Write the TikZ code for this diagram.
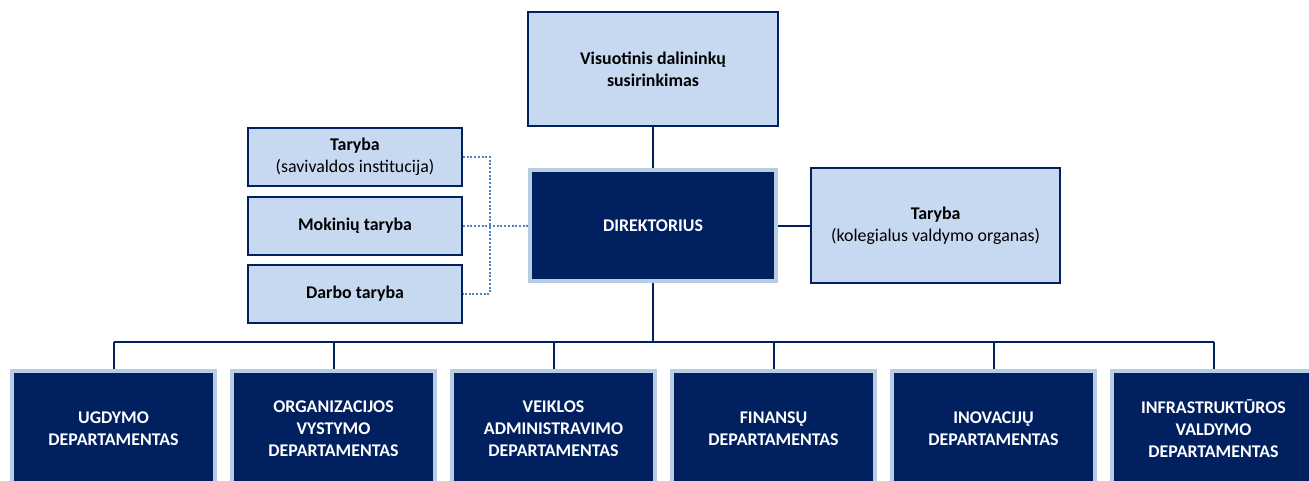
\documentclass[tikz,border=0pt]{standalone}
\usepackage{fontspec}
\setmainfont{Carlito}
\usetikzlibrary{positioning}
\definecolor{navycol}{RGB}{0,32,96}
\definecolor{lightcol}{RGB}{198,217,241}
\definecolor{halocol}{RGB}{184,204,228}
\definecolor{dotcol}{RGB}{79,129,189}

\begin{document}
\begin{tikzpicture}[
			x=0.75pt,
			y=-0.75pt,
			on grid,
			font=\fontsize{13.4}{16.5}\selectfont,
			lightbox/.style={
				draw=navycol,
				line width=1.5pt,
				fill=lightcol,
				align=center,
				inner sep=2pt
			},
			darkbox/.style={
				draw=halocol,
				line width=3pt,
				fill=navycol,
				text=white,
				font=\fontsize{13.4}{16.5}\selectfont\bfseries,
				align=center,
				inner sep=2pt
			},
			dept/.style={
				darkbox,
				minimum width=152pt,
				minimum height=87pt
			},
			link/.style={
				draw=navycol,
				line width=1.5pt
			},
			dotlink/.style={
				draw=dotcol,
				line width=1.5pt,
				dash pattern=on 1.5pt off 1.3pt
			}
			]
			\useasboundingbox (0,0) rectangle (1309,481);
			
			% Top of the chart
			\node[darkbox, minimum width=184.5pt, minimum height=83pt] (dir) at (653,225.5) {DIREKTORIUS};
			\node[lightbox, minimum width=187pt, minimum height=85.5pt] (gs) [above=117.4pt of dir] {\textbf{Visuotinis dalininkų}\\\textbf{susirinkimas}};
			\node[lightbox, minimum width=187pt, minimum height=85.5pt] (valdyba) [right=212pt of dir] {\textbf{Taryba}\\(kolegialus valdymo organas)};
			
			% Left boxes
			\node[lightbox, minimum width=160.5pt, minimum height=43.5pt] (mokiniai) [left=223.5pt of dir] {\textbf{Mokinių taryba}};
			\node[lightbox, minimum width=160.5pt, minimum height=43.5pt] (savivalda) [above=51.5pt of mokiniai] {\textbf{Taryba}\\(savivaldos institucija)};
			\node[lightbox, minimum width=160.5pt, minimum height=43.5pt] (darbo) [below=51pt of mokiniai] {\textbf{Darbo taryba}};
			
			% Departments
			\node[dept] (d1) at (113.5,429) {UGDYMO\\DEPARTAMENTAS};
			\node[dept] (d2) [right=165pt of d1] {ORGANIZACIJOS\\VYSTYMO\\DEPARTAMENTAS};
			\node[dept] (d3) [right=165pt of d2] {VEIKLOS\\ADMINISTRAVIMO\\DEPARTAMENTAS};
			\node[dept] (d4) [right=165pt of d3] {FINANSŲ\\DEPARTAMENTAS};
			\node[dept] (d5) [right=165pt of d4] {INOVACIJŲ\\DEPARTAMENTAS};
			\node[dept] (d6) [right=165pt of d5] {INFRASTRUKTŪROS\\VALDYMO\\DEPARTAMENTAS};
			
			% Connections
			\coordinate (bus) at (653,342);
			\coordinate (join) at (490,226);
			\draw[link] (gs) -- (dir);
			\draw[link] (dir) -- (valdyba);
			\draw[link] (dir) -- (bus);
			\draw[link] (d1.north |- bus) -- (d6.north |- bus);
			\foreach \d in {d1,d2,d3,d4,d5,d6}
				\draw[link] (\d.north |- bus) -- (\d.north);
			\draw[dotlink] (savivalda.east) -| (join |- darbo.east) -- (darbo.east);
			\draw[dotlink] (mokiniai.east) -- (dir.west);
		\end{tikzpicture}
\end{document}
